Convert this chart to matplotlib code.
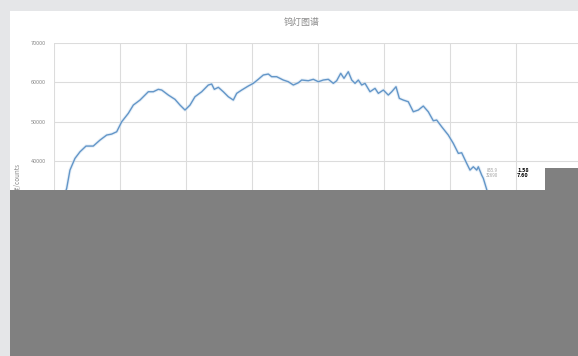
import matplotlib
matplotlib.use("Agg")
import matplotlib.pyplot as plt
from matplotlib.patches import Rectangle

plt.rcParams['font.family'] = ['Noto Sans CJK SC', 'DejaVu Sans']

# spectrum (x in nm, y in counts)
wavelength = [215, 219.2, 224.2, 231.8, 239.4, 248.5, 259.5, 269.7, 279.8, 287.4, 295,
              302.6, 312.6, 320.2, 330.3, 342.9, 350.5, 358, 363.2, 373.2, 383.3,
              390.9, 398.5, 406.1, 413.6, 423.8, 433.8, 438.9, 442.9, 449, 456.5,
              464.1, 471.7, 476.8, 484.4, 494.4, 502, 509.5, 517.1, 524.7, 529.8,
              537.4, 547.4, 555, 562.6, 570.2, 575.3, 585.3, 592.9, 600.5, 608,
              615.6, 623.2, 628.3, 634.4, 639.4, 645.9, 651.1, 656.1, 661.1, 666.2,
              671.2, 678.8, 686.4, 691.4, 699, 706.5, 711.7, 718.2, 723.2, 729.2,
              736.8, 744.4, 752, 759.5, 767.1, 774.7, 779.8, 787.4, 797.4, 805,
              812.6, 817.7, 825.3, 830.3, 835.3, 840.5, 842.9, 848, 850.5, 855.9, 860]
counts = [31000, 33120, 37770, 40740, 42410, 43860, 43860, 45380, 46650, 46900, 47490,
          50030, 52160, 54260, 55530, 57640, 57640, 58250, 58070, 56800, 55710,
          54260, 53000, 54260, 56370, 57640, 59340, 59590, 58250, 58760, 57640,
          56370, 55530, 57230, 58070, 59090, 59770, 60790, 61880, 62130, 61450,
          61450, 60610, 60180, 59340, 59920, 60610, 60430, 60790, 60180, 60610,
          60790, 59770, 60430, 62310, 61040, 62720, 60610, 59770, 60610, 59340,
          59770, 57640, 58500, 57230, 58070, 56800, 57640, 58910, 55960, 55530,
          55100, 52560, 53000, 54010, 52560, 50280, 50460, 48760, 46650, 44540,
          42010, 42160, 39470, 37770, 38610, 37770, 38610, 36500, 35660, 32690, 30000]
yticks = [0, 10000, 20000, 30000, 40000, 50000, 60000, 70000]
xticks = [200, 300, 400, 500, 600, 700, 800, 900, 1000]

W, H = 578, 356
fig = plt.figure(figsize=(W / 100, H / 100), dpi=100)
fig.patch.set_facecolor('#e5e6e8')
fig.patches.append(Rectangle((10 / W, 0), 1, 1 - 11 / H, transform=fig.transFigure,
                             facecolor='white', edgecolor='none', zorder=-5))

ax = fig.add_axes([54 / W, 1 - 319 / H, 528 / W, 276 / H])
ax.set_facecolor('none')
ax.plot(wavelength, counts, color='#cfe1f2', lw=2.4, alpha=0.5, solid_capstyle='round')
ax.plot(wavelength, counts, color='#6396c8', lw=1.0)
ax.set_xlim(200, 1000)
ax.set_ylim(0, 70000)
ax.set_xticks(xticks)
ax.set_yticks(yticks)
ax.grid(True, color='#dcdcdc', lw=0.8)
for s in ax.spines.values():
    s.set_visible(False)
ax.tick_params(length=0, labelsize=4, colors='#8a8a8a', pad=6)
ax.tick_params(axis='x', labelbottom=False)  # x labels sit under the grey cover
ax.set_ylabel('强度/counts', fontsize=4.5, color='#8a8a8a', labelpad=6)

fig.text(302 / W, 1 - 22 / H, '钨灯图谱', ha='center', va='center', fontsize=6.5, color='#8c8c8c')

# hover tooltip remnant
fig.text(492 / W, 1 - 173 / H, '855.9\n32690', ha='center', va='center', fontsize=3.2,
         color='#a0a0a0', linespacing=1.0)
fig.text(523 / W, 1 - 173 / H, '1.58\n7.60', ha='center', va='center', fontsize=4,
         color='black', fontweight='bold', linespacing=0.9)

# grey cover block over the lower part of the screenshot
fig.patches.append(Rectangle((10 / W, 0), 1, 1 - 190 / H, transform=fig.transFigure,
                             facecolor='#808080', edgecolor='none', zorder=10))
fig.patches.append(Rectangle((545 / W, 0), 1, 1 - 168 / H, transform=fig.transFigure,
                             facecolor='#808080', edgecolor='none', zorder=10))

fig.savefig('out.png', dpi=100, facecolor=fig.get_facecolor())
